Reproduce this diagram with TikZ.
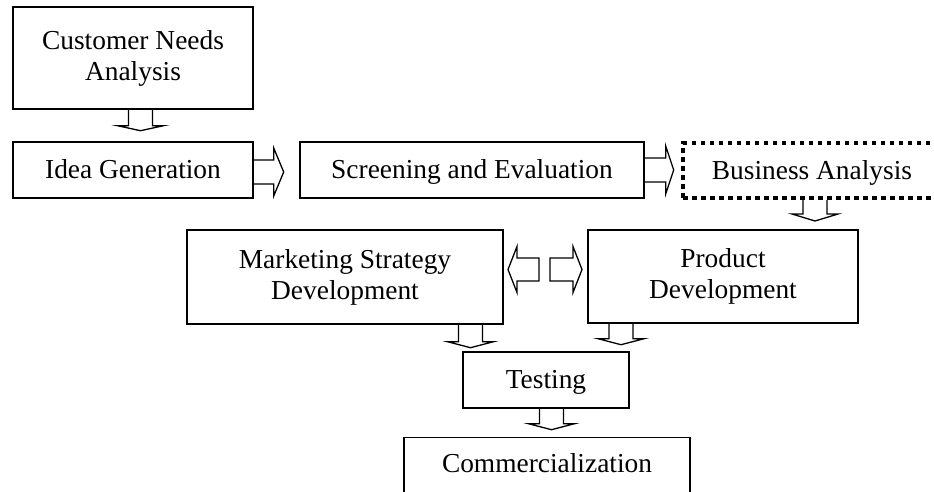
\documentclass[tikz,border=0pt]{standalone}
\usepackage{fontspec}
\setmainfont{Liberation Serif}
\usetikzlibrary{calc}
\tikzset{
  box/.style={draw, line width=1.4pt, rectangle, align=center, inner sep=0pt,
    font=\fontsize{27.4}{31}\selectfont},
  oneline/.style={text height=19pt, text depth=2pt},
  dotbox/.style={box, line width=4pt, dash pattern=on 4.5pt off 4.5pt},
  blk/.style={draw, line width=1.3pt, line join=miter},
}
% block arrows: #1 start point (centre of the shaft base), #2 shaft length, #3 head depth
\newcommand\blkdown[3]{\draw[blk] #1 +(-12,0) -- +(-12,#2) -- +(-23,#2) -- +(0,#2+#3) -- +(23,#2) -- +(12,#2) -- +(12,0);}
\newcommand\blkright[3]{\draw[blk] #1 +(0,-12) -- +(#2,-12) -- +(#2,-24) -- +(#2+#3,0) -- +(#2,24) -- +(#2,12) -- +(0,12);}
\begin{document}
\begin{tikzpicture}[x=1pt,y=-1pt]
\useasboundingbox (0,0) rectangle (934,491);
\clip (0,0) rectangle (934,491);

\node[box, minimum width=240pt, minimum height=102pt] (cna) at (133,58) {Customer Needs\\Analysis};
\node[box, oneline, minimum width=240pt, minimum height=56pt] (idea) at (133,170) {Idea Generation};
\node[box, oneline, minimum width=344pt, minimum height=56pt] (scr) at (472,170) {Screening and Evaluation};
\node[dotbox, oneline, minimum width=258pt, minimum height=55pt] (bus) at (812,170.5) {Business Analysis};
\node[box, minimum width=316pt, minimum height=94pt] (mkt) at (345,277) {Marketing Strategy\\Development};
\node[box, minimum width=270pt, minimum height=93pt] (prod) at (723,276.5) {Product\\Development};
\node[box, oneline, minimum width=166pt, minimum height=56pt] (test) at (546,380) {Testing};
\node[box, minimum width=286pt, anchor=north, text height=35pt, text depth=28pt] (comm) at (547,437) {Commercialization};

\blkdown{($(cna.south)+(7.5,0)$)}{16}{5}
\blkright{($(idea.east)+(0,2)$)}{20}{10}
\blkright{(scr.east)}{21}{8}
\blkdown{($(bus.south)+(3,0)$)}{14}{7}
\blkdown{($(mkt.south)+(125.5,0)$)}{17}{6}
\blkdown{($(prod.south)+(-102,0)$)}{15}{6}
\blkdown{($(test.south)+(5.5,0)$)}{15}{6}

% double arrow between marketing and product
\coordinate (mid) at ($(mkt.east)!0.5!(prod.west)+(0,-7.25)$);
\draw[blk] ($(mid)+(-6.5,0)$) +(0,-11.5) -- +(-22,-11.5) -- +(-22,-23) -- +(-31,0) -- +(-22,23) -- +(-22,11.5) -- +(0,11.5) -- cycle;
\draw[blk] ($(mid)+(4.5,0)$) +(0,-11.5) -- +(23,-11.5) -- +(23,-23) -- +(32,0) -- +(23,23) -- +(23,11.5) -- +(0,11.5) -- cycle;
\end{tikzpicture}
\end{document}
